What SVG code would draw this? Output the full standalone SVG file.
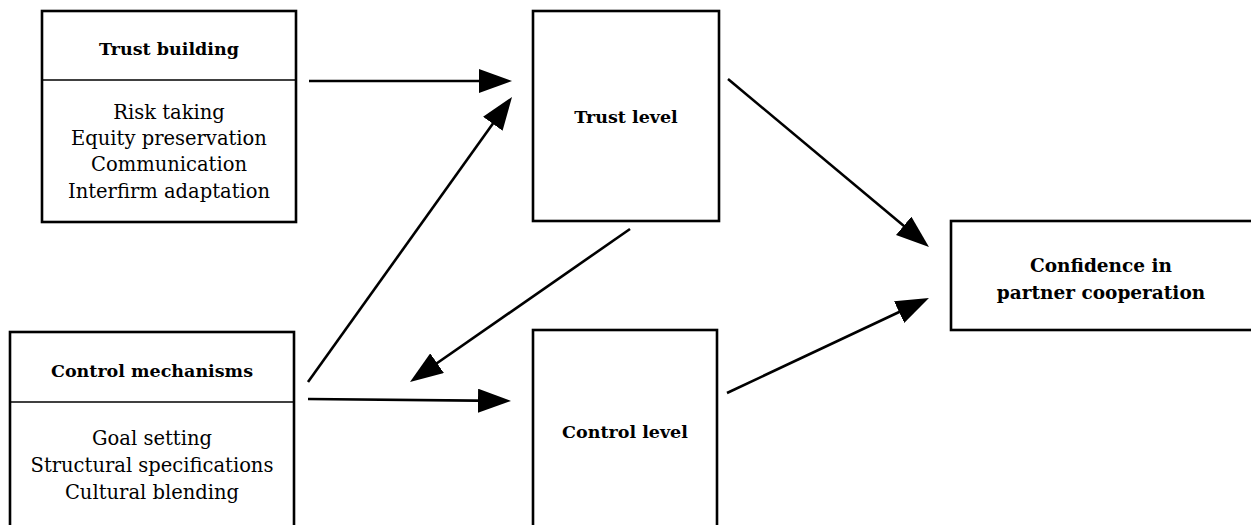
<svg xmlns="http://www.w3.org/2000/svg" width="1251" height="525" viewBox="0 0 1251 525">
<style>
.box{fill:#fff;stroke:#000;stroke-width:2.6}
.div{stroke:#000;stroke-width:1.6}
.t{font-family:"DejaVu Serif","Liberation Serif",serif;font-size:19.5px;fill:#000;text-anchor:middle;dominant-baseline:central}
.b{font-weight:bold;font-size:17.5px}
.cf{font-size:18.5px}
.c{fill:none;stroke:#000;stroke-width:2.6}
</style>
<defs>
<marker id="ah" viewBox="0 0 33 24" refX="23" refY="12" markerWidth="33" markerHeight="24" markerUnits="userSpaceOnUse" orient="auto">
<path d="M0,0 L33,12 L0,24 Z" fill="#000"/>
</marker>
</defs>
<rect width="1251" height="525" fill="#fff"/>
<g id="trust-building">
<rect class="box" x="42" y="11" width="254" height="211"/>
<line class="div" x1="42" y1="80" x2="296" y2="80"/>
<text class="t b" x="169" y="49">Trust building</text>
<text class="t" x="169" y="112">Risk taking</text>
<text class="t" x="169" y="138">Equity preservation</text>
<text class="t" x="169" y="164">Communication</text>
<text class="t" x="169" y="191">Interfirm adaptation</text>
</g>
<g id="control-mechanisms">
<rect class="box" x="10" y="332" width="284" height="210"/>
<line class="div" x1="10" y1="402" x2="294" y2="402"/>
<text class="t b" x="152" y="371">Control mechanisms</text>
<text class="t" x="152" y="438">Goal setting</text>
<text class="t" x="152" y="465">Structural specifications</text>
<text class="t" x="152" y="492">Cultural blending</text>
</g>
<g id="trust-level">
<rect class="box" x="533" y="11" width="186" height="210"/>
<text class="t b" x="626" y="117">Trust level</text>
</g>
<g id="control-level">
<rect class="box" x="533" y="330" width="184" height="212"/>
<text class="t b" x="625" y="432">Control level</text>
</g>
<g id="confidence">
<rect class="box" x="951" y="221" width="310" height="109"/>
<text class="t b cf" x="1101" y="265">Confidence in</text>
<text class="t b cf" x="1101" y="292">partner cooperation</text>
</g>
<g id="connectors">
<line class="c" x1="309" y1="81" x2="502" y2="81" marker-end="url(#ah)"/>
<line class="c" x1="308" y1="382" x2="506.2" y2="105.1" marker-end="url(#ah)"/>
<line class="c" x1="630" y1="229" x2="418.2" y2="376.3" marker-end="url(#ah)"/>
<line class="c" x1="308" y1="399" x2="501" y2="400.9" marker-end="url(#ah)"/>
<line class="c" x1="728" y1="79" x2="921.3" y2="240.6" marker-end="url(#ah)"/>
<line class="c" x1="727" y1="393" x2="919.9" y2="302.3" marker-end="url(#ah)"/>
</g>
</svg>
